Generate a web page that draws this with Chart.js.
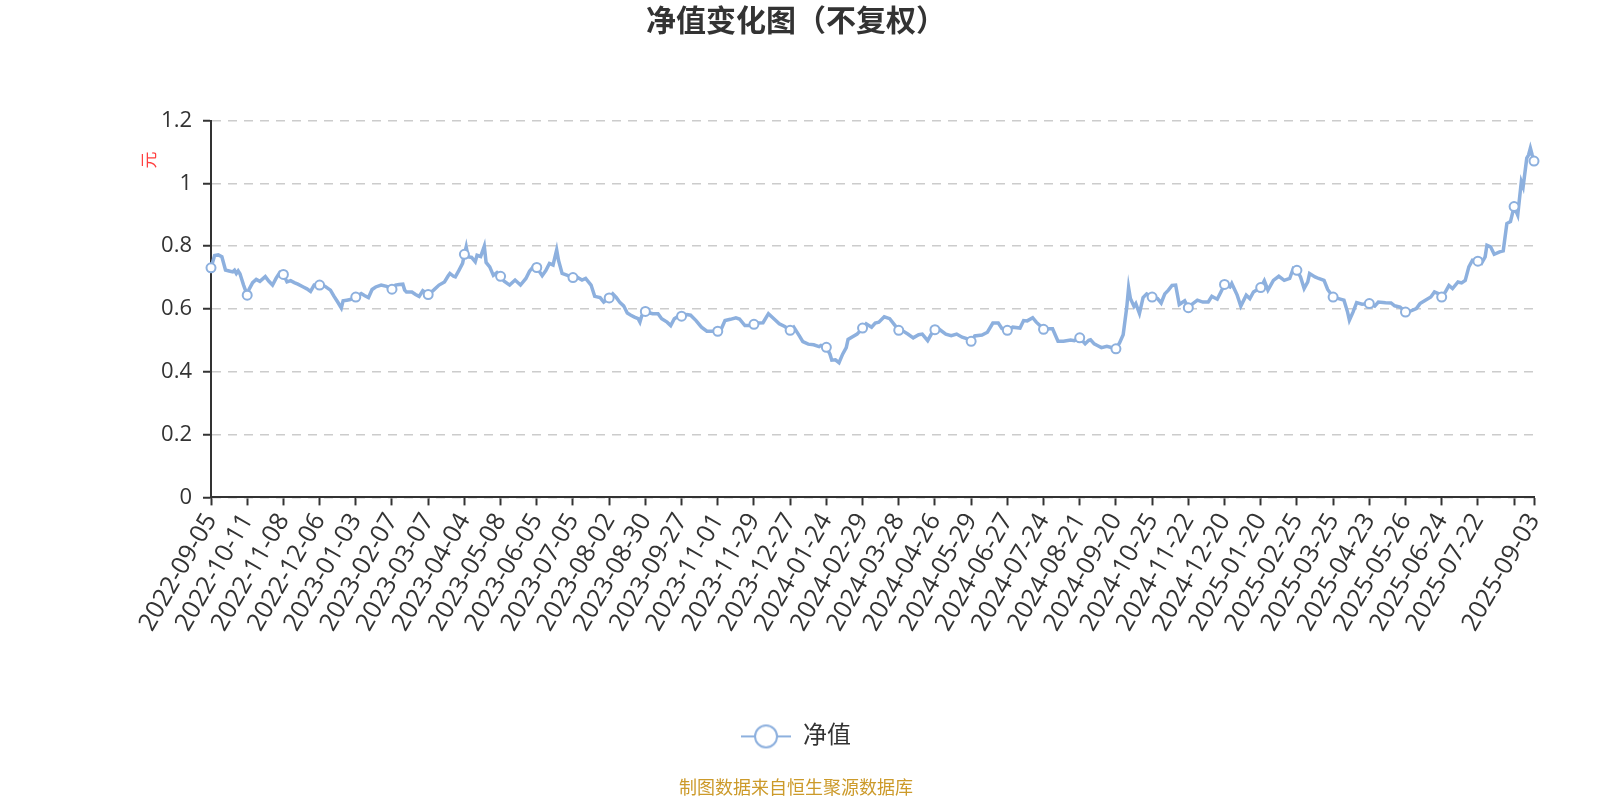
<!DOCTYPE html>
<html>
<head>
<meta charset="utf-8">
<script src="https://cdn.jsdelivr.net/npm/chart.js@4.4.1/dist/chart.umd.min.js"></script>
<style>
html,body{margin:0;padding:0;background:#ffffff;}
canvas{display:block;}
</style>
</head>
<body>
<canvas id="chart" width="1600" height="800"></canvas>
<script>
const titleText = '净值变化图（不复权）';
const seriesName = '净值';
const yAxisName = '元';
const sourceText = '制图数据来自恒生聚源数据库';

// category (trading-day) index of each x tick and its label ('' = tick without label)
const tickIdx = [0,20,40,60,80,100,120,140,160,180,200,220,240,260,280,300,320,340,360,380,400,420,440,460,480,500,520,540,560,580,600,620,640,660,680,700,720,731];
const tickLabels = ['2022-09-05','2022-10-11','2022-11-08','2022-12-06','2023-01-03','2023-02-07','2023-03-07','2023-04-04','2023-05-08','2023-06-05','2023-07-05','2023-08-02','2023-08-30','2023-09-27','2023-11-01','2023-11-29','2023-12-27','2024-01-24','2024-02-29','2024-03-28','2024-04-26','2024-05-29','2024-06-27','2024-07-24','2024-08-21','2024-09-20','2024-10-25','2024-11-22','2024-12-20','2025-01-20','2025-02-25','2025-03-25','2025-04-23','2025-05-26','2025-06-24','2025-07-22','','2025-09-03'];

const yTicks = [0,0.2,0.4,0.6,0.8,1,1.2];
const yTickLabels = ['0','0.2','0.4','0.6','0.8','1','1.2'];

// trading-day index of each reading
const navIdx = [
0,2,4,6,8,10,12,13,14,15,16,18,
20,21,23,25,27,30,32,34,36,38,
40,42,44,46,48,51,53,55,57,
60,63,66,68,70,72,73,75,77,
80,83,85,87,89,91,94,97,
100,102,104,106,107,108,111,113,115,117,
120,123,126,129,131,132,134,135,137,139,
140,141,142,144,146,147,149,151,152,154,156,158,
160,162,165,168,171,174,176,178,
180,183,185,187,189,191,192,194,197,
200,202,205,207,210,212,215,217,
220,222,224,226,228,230,232,234,236,237,238,
240,242,244,247,249,252,254,256,258,
260,263,265,268,271,274,278,
280,282,284,287,290,292,295,298,
300,302,305,308,311,314,317,
320,322,325,327,330,333,336,337,
340,342,343,345,347,349,351,352,354,357,
360,362,365,367,369,372,375,378,
380,382,385,388,391,393,396,398,
400,402,406,409,412,415,418,
420,422,426,429,432,435,437,
440,443,447,449,451,454,456,458,
460,463,465,468,471,475,477,
480,483,485,486,488,490,492,495,497,
500,502,504,506,507,508,510,511,513,515,517,
520,523,525,527,529,531,533,535,538,
540,542,545,548,551,553,556,558,
560,563,564,567,569,572,574,576,
580,582,584,587,590,593,596,598,
600,602,604,606,607,610,612,615,617,
620,623,626,628,629,631,633,636,
640,643,645,649,652,654,657,
660,663,666,668,671,674,676,678,
680,682,684,686,689,691,693,695,697,
700,702,704,705,707,709,712,714,716,718,
720,722,724,725,727,728,729,730,731
];
// unit net value (元)
const navValues = [
0.731,0.770,0.772,0.766,0.724,0.721,0.718,0.723,0.713,0.721,0.712,0.676,
0.644,0.662,0.684,0.694,0.688,0.703,0.688,0.676,0.698,0.716,
0.710,0.686,0.690,0.684,0.679,0.670,0.664,0.656,0.676,
0.676,0.672,0.660,0.640,0.622,0.603,0.626,0.628,0.630,
0.638,0.649,0.642,0.636,0.662,0.670,0.676,0.672,
0.663,0.676,0.678,0.679,0.660,0.654,0.654,0.646,0.640,0.658,
0.646,0.660,0.676,0.686,0.705,0.713,0.704,0.702,0.723,0.745,
0.774,0.798,0.766,0.764,0.750,0.771,0.767,0.800,0.748,0.734,0.707,0.716,
0.704,0.688,0.676,0.692,0.676,0.697,0.720,0.734,
0.732,0.706,0.722,0.745,0.740,0.788,0.755,0.713,0.707,
0.700,0.702,0.692,0.697,0.676,0.640,0.636,0.622,
0.635,0.648,0.636,0.620,0.610,0.587,0.580,0.574,0.569,0.558,0.578,
0.592,0.588,0.585,0.585,0.569,0.558,0.547,0.569,0.576,
0.577,0.582,0.580,0.563,0.542,0.529,0.529,
0.529,0.537,0.563,0.567,0.572,0.568,0.547,0.547,
0.551,0.555,0.556,0.585,0.569,0.553,0.544,
0.532,0.542,0.515,0.496,0.488,0.486,0.480,0.484,
0.478,0.456,0.437,0.438,0.429,0.456,0.477,0.503,0.510,0.520,
0.539,0.553,0.542,0.555,0.558,0.575,0.569,0.547,
0.532,0.531,0.520,0.508,0.518,0.520,0.499,0.520,
0.534,0.537,0.520,0.515,0.520,0.510,0.505,
0.497,0.514,0.517,0.526,0.555,0.555,0.538,
0.532,0.542,0.539,0.563,0.562,0.572,0.558,0.547,
0.535,0.537,0.537,0.497,0.497,0.501,0.499,
0.508,0.489,0.500,0.502,0.489,0.483,0.477,0.481,0.478,
0.473,0.492,0.518,0.606,0.668,0.633,0.608,0.617,0.586,0.636,0.648,
0.638,0.633,0.619,0.648,0.660,0.675,0.676,0.614,0.626,
0.604,0.615,0.628,0.622,0.622,0.640,0.631,0.654,
0.678,0.670,0.681,0.644,0.609,0.644,0.633,0.654,
0.668,0.690,0.660,0.691,0.704,0.691,0.697,0.729,
0.723,0.702,0.665,0.686,0.713,0.702,0.697,0.691,0.662,
0.638,0.633,0.628,0.590,0.564,0.590,0.620,0.615,
0.617,0.609,0.622,0.620,0.619,0.610,0.606,
0.590,0.594,0.601,0.617,0.628,0.638,0.654,0.649,
0.638,0.654,0.675,0.665,0.686,0.683,0.691,0.734,0.755,
0.752,0.745,0.766,0.803,0.798,0.774,0.782,0.785,0.872,0.878,
0.926,0.899,1.005,0.989,1.080,1.090,1.112,1.090,1.071
];

const FONT = "'Open Sans', 'Noto Sans CJK SC', sans-serif";
const LINE_COLOR = '#8db0de';
const TEXT_COLOR = '#333333';
const lastIdx = tickIdx[tickIdx.length - 1];

// legend icon: line with hollow circle
const icon = document.createElement('canvas');
icon.width = 50; icon.height = 28;
(function(){
  const c = icon.getContext('2d');
  c.strokeStyle = LINE_COLOR; c.lineWidth = 2;
  c.beginPath(); c.moveTo(0, 14); c.lineTo(50, 14); c.stroke();
  c.beginPath(); c.arc(25, 14, 11, 0, Math.PI * 2);
  c.fillStyle = '#ffffff'; c.fill(); c.stroke();
})();

const yNamePlugin = {
  id: 'yName',
  afterDraw(chart) {
    const ctx = chart.ctx;
    ctx.save();
    ctx.translate(150, 160);
    ctx.rotate(-Math.PI / 2);
    ctx.fillStyle = '#ff4040';
    ctx.font = '17px ' + FONT;
    ctx.textAlign = 'center';
    ctx.textBaseline = 'middle';
    ctx.fillText(yAxisName, 0, 0);
    ctx.restore();
  }
};

new Chart(document.getElementById('chart'), {
  type: 'line',
  data: {
    datasets: [{
      label: seriesName,
      data: navIdx.map((x, i) => ({x: x, y: navValues[i]})),
      borderColor: LINE_COLOR,
      borderWidth: 3.5,
      tension: 0,
      clip: false,
      pointStyle: 'circle',
      pointRadius: (c) => {
        const x = navIdx[c.dataIndex];
        return (x % 20 === 0 || x === lastIdx) ? 4.5 : 0;
      },
      pointHoverRadius: 0,
      pointBackgroundColor: '#ffffff',
      pointBorderColor: LINE_COLOR,
      pointBorderWidth: 2
    }]
  },
  options: {
    responsive: false,
    animation: false,
    devicePixelRatio: 1,
    layout: {padding: {left: 0, right: 8, top: 0, bottom: 0}},
    plugins: {
      title: {
        display: true,
        text: titleText,
        color: TEXT_COLOR,
        font: {family: FONT, size: 30, weight: 'bold'},
        padding: {top: 4.5, bottom: 80}
      },
      subtitle: {
        display: true,
        text: sourceText,
        position: 'bottom',
        color: '#cc9a2a',
        font: {family: FONT, size: 18, weight: 'normal'},
        padding: {top: 20, bottom: 0}
      },
      legend: {
        display: true,
        position: 'bottom',
        labels: {
          usePointStyle: true,
          pointStyle: icon,
          pointStyleWidth: 50,
          color: TEXT_COLOR,
          font: {family: FONT, size: 24},
          padding: 10
        }
      },
      tooltip: {enabled: false}
    },
    scales: {
      x: {
        type: 'linear',
        min: 0,
        max: lastIdx,
        offset: false,
        afterBuildTicks: (s) => { s.ticks = tickIdx.map(v => ({value: v})); },
        afterFit: (s) => { s.height = 217; },
        ticks: {
          autoSkip: false,
          minRotation: 60,
          maxRotation: 60,
          padding: 3,
          color: TEXT_COLOR,
          font: {family: FONT, size: 25},
          callback: (v) => { const k = tickIdx.indexOf(v); return k >= 0 ? tickLabels[k] : ''; }
        },
        grid: {display: true, drawOnChartArea: false, drawTicks: true, tickLength: 8, tickColor: '#333333', tickWidth: 2},
        border: {display: true, color: '#333333', width: 2}
      },
      y: {
        type: 'linear',
        min: 0,
        max: 1.2,
        afterBuildTicks: (s) => { s.ticks = yTicks.map(v => ({value: v})); },
        afterFit: (s) => { s.width = 211; },
        ticks: {
          padding: 11,
          color: TEXT_COLOR,
          font: {family: FONT, size: 22},
          callback: (v) => { const k = yTicks.findIndex(t => Math.abs(t - v) < 1e-9); return k >= 0 ? yTickLabels[k] : ''; }
        },
        grid: {color: '#cccccc', lineWidth: 1.5, drawTicks: true, tickLength: 8, tickColor: '#333333', tickWidth: 2, tickBorderDash: []},
        border: {display: true, color: '#333333', width: 2, dash: [9, 7]}
      },
      yR: {
        type: 'linear',
        position: 'right',
        display: true,
        ticks: {display: false},
        grid: {display: false, drawTicks: false},
        border: {display: false},
        afterFit: (s) => { s.width = 58; }
      }
    }
  },
  plugins: [yNamePlugin]
});
</script>
</body>
</html>
